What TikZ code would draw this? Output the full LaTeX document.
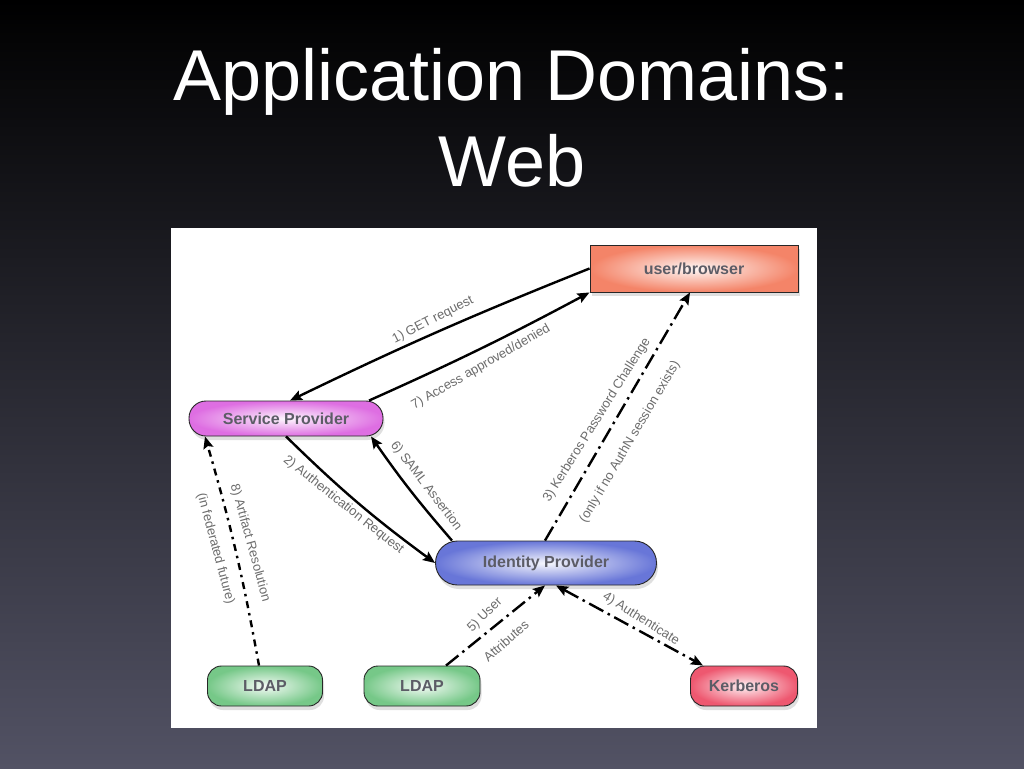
\documentclass[tikz,border=0pt]{standalone}
\usepackage{fontspec}
\setmainfont{Liberation Sans}
\usetikzlibrary{arrows.meta,shadows}
\definecolor{bgbot}{RGB}{82,82,100}
\definecolor{ubc}{RGB}{244,132,104}
\definecolor{spc}{RGB}{222,110,226}
\definecolor{idc}{RGB}{104,118,216}
\definecolor{ldc}{RGB}{118,200,136}
\definecolor{kbc}{RGB}{238,88,112}
\definecolor{ntext}{RGB}{92,92,102}
\definecolor{ltext}{RGB}{108,108,108}
\begin{document}
\begin{tikzpicture}[x=1pt,y=-1pt,
  nd/.style={draw=black!85, line width=0.9pt, shading=radial, inner sep=0pt,
    font=\fontsize{16}{19}\selectfont\bfseries, text=ntext,
    drop shadow={shadow xshift=1.5pt, shadow yshift=-4pt, opacity=0.25}},
  lbl/.style={font=\fontsize{13}{15}\selectfont, text=ltext, inner sep=1pt},
  conn/.style={line width=2.4pt, black},
  tip/.style={-{Stealth[length=12pt,width=10pt,inset=2pt]}},
  longdd/.style={dash pattern=on 16pt off 5pt on 2.5pt off 5pt},
  shortdd/.style={dash pattern=on 7pt off 5pt on 2.5pt off 5pt}]
\useasboundingbox (0,0) rectangle (1024,768);
\shade[top color=black, bottom color=bgbot] (0,0) rectangle (1024,768);
\fill[white] (171,228) rectangle (817,728);
% title
\node[font=\fontsize{72}{85}\selectfont, text=white, anchor=base, inner sep=0pt] (t1) at (512,100) {Application Domains:};
\node[font=\fontsize{72}{85}\selectfont, text=white, anchor=base, inner sep=0pt] (t2) at (512,186) {Web};
% nodes
\node[nd, inner color=ubc!6, outer color=ubc, minimum width=208pt, minimum height=47pt] (ub) at (694,268.5) {user/browser};
\node[nd, inner color=spc!6, outer color=spc, minimum width=194pt, minimum height=35pt, rounded corners=17pt] (sp) at (286,418.5) {Service Provider};
\node[nd, inner color=idc!6, outer color=idc, minimum width=221pt, minimum height=44pt, rounded corners=22pt] (idp) at (546,563) {Identity Provider};
\node[nd, inner color=ldc!8, outer color=ldc, minimum width=115pt, minimum height=40pt, rounded corners=14pt] (ld1) at (265,686) {LDAP};
\node[nd, inner color=ldc!8, outer color=ldc, minimum width=116pt, minimum height=40pt, rounded corners=14pt] (ld2) at (422,686) {LDAP};
\node[nd, inner color=kbc!8, outer color=kbc, minimum width=107pt, minimum height=40pt, rounded corners=14pt] (kb) at (744,686) {Kerberos};
% connectors
\draw[conn, tip] (ub.west) to[bend right=2] ([xshift=4pt]sp.north);
\draw[conn, tip] ([xshift=83pt]sp.north) to[bend right=2] (ub.south west);
\draw[conn, tip] (sp.south) to[bend right=4] (idp.west);
\draw[conn, tip] ([xshift=-94pt]idp.north) to[bend left=3] ([xshift=85pt]sp.south);
\draw[conn, tip, longdd] ([xshift=-1pt]idp.north) -- ([xshift=-4pt]ub.south);
\draw[conn, tip, shortdd] ([xshift=-6pt]ld1.north) to[bend right=3] ([xshift=-81pt]sp.south);
\draw[conn, tip, longdd] ([xshift=24pt]ld2.north) -- ([xshift=-1pt]idp.south);
\draw[conn, {Stealth[length=12pt,width=10pt,inset=2pt]}-{Stealth[length=12pt,width=10pt,inset=2pt]}, longdd] ([xshift=10pt]idp.south) -- ([xshift=-41pt]kb.north);
% labels
\node[lbl, rotate=27] (l1) at (433,320) {1) GET request};
\node[lbl, rotate=30] (l7) at (481,367) {7) Access approved/denied};
\node[lbl, rotate=-38.5] (l2) at (343.5,505) {2) Authentication Request};
\node[lbl, rotate=-52.5] (l6) at (426,486) {6) SAML Assertion};
\node[lbl, rotate=58] (l3a) at (597,420) {3) Kerberos Password Challenge};
\node[lbl, rotate=59.5] (l3b) at (630,442) {(only if no AuthN session exists)};
\node[lbl, rotate=-74.6] (l8a) at (250,543) {8) Artifact Resolution};
\node[lbl, rotate=-75] (l8b) at (215.5,548.5) {(in federated future)};
\node[lbl, rotate=44] (l5a) at (485,615) {5) User};
\node[lbl, rotate=41] (l5b) at (506,641) {Attributes};
\node[lbl, rotate=-32] (l4) at (641,619) {4) Authenticate};
\end{tikzpicture}
\end{document}
